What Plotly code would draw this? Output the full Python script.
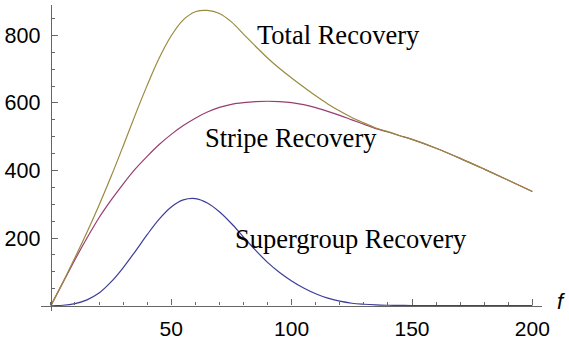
import plotly.graph_objects as go

# frequency samples
f_vals = [0, 5, 10, 15, 20, 25, 30, 35, 40, 45, 50, 55, 60, 65, 70, 75, 80, 85,
          90, 95, 100, 105, 110, 115, 120, 125, 130, 135, 140, 145, 150,
          160, 170, 180, 190, 200]

supergroup = [0, 1, 6, 17, 37, 70, 112, 160, 210, 256, 292, 313, 317, 304, 278,
              243, 203, 164, 128, 98, 73, 52, 35, 22, 13, 7, 4, 2, 1, 0.5, 0.3,
              0.1, 0, 0, 0, 0]

stripe = [0, 68, 136, 200, 260, 312, 360, 404, 442, 477, 507, 533, 555, 573, 587,
          596, 601, 604, 605, 604, 601, 595, 586, 575, 563, 550, 537, 524, 514, 503, 492,
          466, 436, 404, 371, 338]

total = [0, 69, 142, 217, 297, 382, 472, 564, 652, 733, 799, 846, 870, 874, 865,
         840, 804, 768, 733, 702, 674, 647, 621, 597, 576, 557, 541, 526, 515, 503, 492,
         466, 436, 404, 371, 338]

x_ticks = [50, 100, 150, 200]
y_ticks = [200, 400, 600, 800]

labels = ["Total Recovery", "Stripe Recovery", "Supergroup Recovery"]
label_pos = [(119.6, 800), (99.7, 497), (124.6, 196)]

colors = {
    "supergroup": "rgb(61,61,153)",
    "stripe": "rgb(153,61,113)",
    "total": "rgb(153,139,61)",
}

X_RANGE = [-4.1, 204]
Y_RANGE = [-16, 890]

fig = go.Figure()
for name, ys in (("supergroup", supergroup), ("stripe", stripe), ("total", total)):
    fig.add_trace(go.Scatter(
        x=f_vals, y=ys, mode="lines",
        line=dict(color=colors[name], width=1.2, shape="spline", smoothing=1.0),
        showlegend=False, hoverinfo="skip",
    ))

for text, (lx, ly) in zip(labels, label_pos):
    fig.add_annotation(
        x=lx, y=ly, text=text, showarrow=False,
        xanchor="center", yanchor="middle",
        font=dict(family="Liberation Serif", size=26.5, color="black"),
    )

# axis label f just past the end of the horizontal axis
fig.add_annotation(
    xref="paper", yref="paper", x=1.038, y=0.03,
    text="<i>f</i>", showarrow=False,
    xanchor="center", yanchor="middle",
    font=dict(family="Liberation Sans", size=22, color="black"),
)

axis_color = "#666666"
x_pos = (0 - Y_RANGE[0]) / (Y_RANGE[1] - Y_RANGE[0])
y_pos = (0 - X_RANGE[0]) / (X_RANGE[1] - X_RANGE[0])

fig.update_layout(
    width=569, height=345,
    margin=dict(l=40, r=27, t=5, b=30),
    paper_bgcolor="white", plot_bgcolor="white",
    xaxis=dict(
        range=X_RANGE, anchor="free", position=x_pos,
        showgrid=False, zeroline=False,
        showline=True, linecolor=axis_color, linewidth=1.2,
        tickmode="array", tickvals=x_ticks, ticktext=[str(v) for v in x_ticks],
        ticks="inside", ticklen=6, tickwidth=1, tickcolor=axis_color,
        minor=dict(dtick=10, tick0=0, ticks="inside", ticklen=3.5,
                   tickwidth=1, tickcolor=axis_color, showgrid=False),
        tickfont=dict(family="Liberation Sans", size=21, color="black"),
        ticklabelstandoff=4,
    ),
    yaxis=dict(
        range=Y_RANGE, anchor="free", position=y_pos,
        showgrid=False, zeroline=False,
        showline=True, linecolor=axis_color, linewidth=1.2,
        tickmode="array", tickvals=y_ticks, ticktext=[str(v) for v in y_ticks],
        ticks="inside", ticklen=6, tickwidth=1, tickcolor=axis_color,
        minor=dict(dtick=50, tick0=0, ticks="inside", ticklen=3.5,
                   tickwidth=1, tickcolor=axis_color, showgrid=False),
        tickfont=dict(family="Liberation Sans", size=21.5, color="black"),
        ticklabelstandoff=6,
    ),
)

fig.write_html("out.html")
